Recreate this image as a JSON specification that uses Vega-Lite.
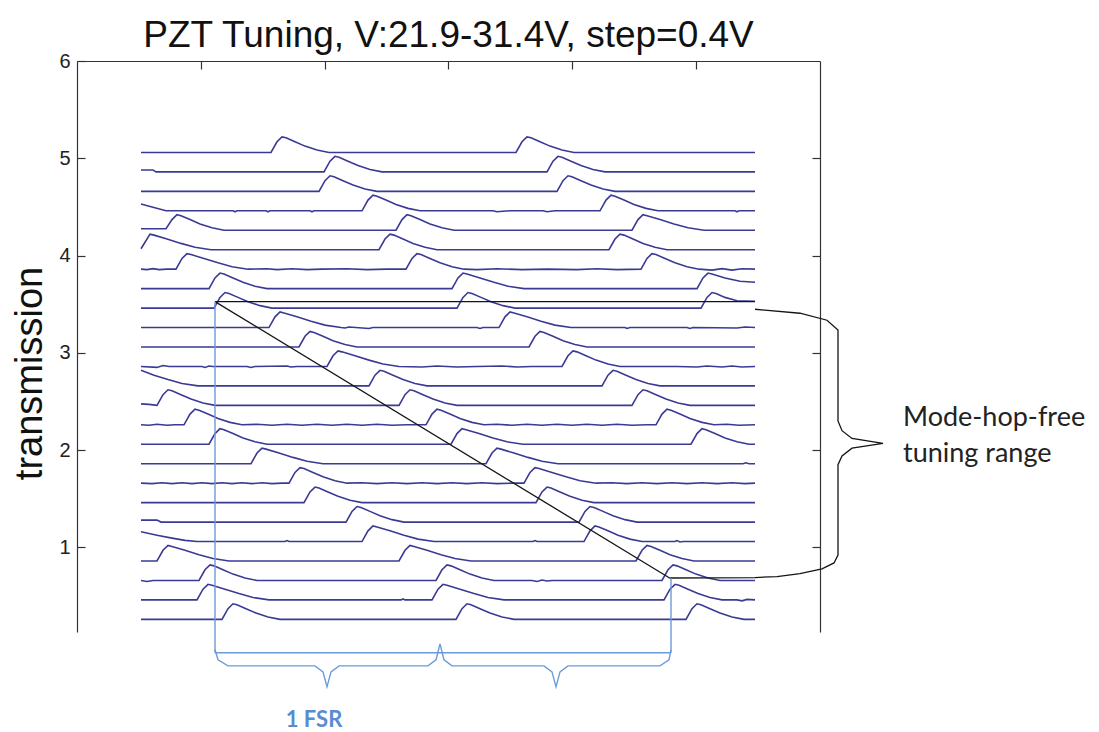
{
  "$schema": "https://vega.github.io/schema/vega-lite/v6.json",
  "autosize": {"type": "none"},
  "width": 743,
  "height": 571,
  "padding": {"left": 77, "top": 61, "right": 279, "bottom": 100},
  "background": "white",
  "config": {"view": {"stroke": null}, "font": "Liberation Sans"},
  "title": {"text": "PZT Tuning, V:21.9-31.4V, step=0.4V", "fontSize": 37, "font": "Liberation Sans", "fontWeight": "normal", "color": "#111", "anchor": "middle", "frame": "group", "offset": -4},
  "resolve": {"axis": {"x": "independent", "y": "independent"}},
  "datasets": {
    "tr": [
{"t":1,"x":64,"y":5.06},{"t":1,"x":194,"y":5.06},{"t":1,"x":200,"y":5.17},{"t":1,"x":205,"y":5.22},{"t":1,"x":209,"y":5.21},{"t":1,"x":218,"y":5.17},{"t":1,"x":228,"y":5.125},{"t":1,"x":240,"y":5.085},{"t":1,"x":252,"y":5.06},{"t":1,"x":439,"y":5.06},{"t":1,"x":445,"y":5.17},{"t":1,"x":450,"y":5.22},{"t":1,"x":454,"y":5.21},{"t":1,"x":463,"y":5.17},{"t":1,"x":473,"y":5.125},{"t":1,"x":485,"y":5.085},{"t":1,"x":497,"y":5.06},{"t":1,"x":678,"y":5.06},
{"t":2,"x":64,"y":4.88},{"t":2,"x":76,"y":4.88},{"t":2,"x":79,"y":4.86},{"t":2,"x":247,"y":4.86},{"t":2,"x":253,"y":4.97},{"t":2,"x":258,"y":5.02},{"t":2,"x":262,"y":5.01},{"t":2,"x":271,"y":4.97},{"t":2,"x":281,"y":4.925},{"t":2,"x":293,"y":4.885},{"t":2,"x":305,"y":4.86},{"t":2,"x":470,"y":4.86},{"t":2,"x":476,"y":4.97},{"t":2,"x":481,"y":5.02},{"t":2,"x":485,"y":5.01},{"t":2,"x":494,"y":4.97},{"t":2,"x":504,"y":4.925},{"t":2,"x":516,"y":4.885},{"t":2,"x":528,"y":4.86},{"t":2,"x":678,"y":4.86},
{"t":3,"x":64,"y":4.66},{"t":3,"x":242,"y":4.66},{"t":3,"x":248,"y":4.77},{"t":3,"x":253,"y":4.82},{"t":3,"x":257,"y":4.81},{"t":3,"x":266,"y":4.77},{"t":3,"x":276,"y":4.725},{"t":3,"x":288,"y":4.685},{"t":3,"x":300,"y":4.66},{"t":3,"x":480,"y":4.66},{"t":3,"x":486,"y":4.77},{"t":3,"x":491,"y":4.82},{"t":3,"x":495,"y":4.81},{"t":3,"x":504,"y":4.77},{"t":3,"x":514,"y":4.725},{"t":3,"x":526,"y":4.685},{"t":3,"x":538,"y":4.66},{"t":3,"x":678,"y":4.66},
{"t":4,"x":64,"y":4.53},{"t":4,"x":75,"y":4.5},{"t":4,"x":89,"y":4.46},{"t":4,"x":156,"y":4.46},{"t":4,"x":158,"y":4.45},{"t":4,"x":160,"y":4.46},{"t":4,"x":189,"y":4.46},{"t":4,"x":191,"y":4.45},{"t":4,"x":193,"y":4.46},{"t":4,"x":233,"y":4.46},{"t":4,"x":235,"y":4.45},{"t":4,"x":237,"y":4.46},{"t":4,"x":285,"y":4.46},{"t":4,"x":291,"y":4.57},{"t":4,"x":296,"y":4.62},{"t":4,"x":300,"y":4.61},{"t":4,"x":309,"y":4.57},{"t":4,"x":319,"y":4.525},{"t":4,"x":331,"y":4.485},{"t":4,"x":343,"y":4.46},{"t":4,"x":416,"y":4.46},{"t":4,"x":420,"y":4.45},{"t":4,"x":426,"y":4.455},{"t":4,"x":433,"y":4.46},{"t":4,"x":466,"y":4.46},{"t":4,"x":470,"y":4.45},{"t":4,"x":478,"y":4.46},{"t":4,"x":523,"y":4.46},{"t":4,"x":529,"y":4.57},{"t":4,"x":534,"y":4.62},{"t":4,"x":538,"y":4.61},{"t":4,"x":547,"y":4.57},{"t":4,"x":557,"y":4.525},{"t":4,"x":569,"y":4.485},{"t":4,"x":581,"y":4.46},{"t":4,"x":658,"y":4.46},{"t":4,"x":660,"y":4.45},{"t":4,"x":662,"y":4.46},{"t":4,"x":678,"y":4.46},
{"t":5,"x":64,"y":4.275},{"t":5,"x":89,"y":4.275},{"t":5,"x":95,"y":4.37},{"t":5,"x":100,"y":4.42},{"t":5,"x":104,"y":4.41},{"t":5,"x":113,"y":4.37},{"t":5,"x":123,"y":4.325},{"t":5,"x":135,"y":4.285},{"t":5,"x":147,"y":4.26},{"t":5,"x":319,"y":4.26},{"t":5,"x":325,"y":4.37},{"t":5,"x":330,"y":4.42},{"t":5,"x":334,"y":4.41},{"t":5,"x":343,"y":4.37},{"t":5,"x":353,"y":4.325},{"t":5,"x":365,"y":4.285},{"t":5,"x":377,"y":4.26},{"t":5,"x":555,"y":4.26},{"t":5,"x":561,"y":4.37},{"t":5,"x":566,"y":4.42},{"t":5,"x":570,"y":4.41},{"t":5,"x":583,"y":4.37},{"t":5,"x":597,"y":4.325},{"t":5,"x":611,"y":4.285},{"t":5,"x":627,"y":4.26},{"t":5,"x":678,"y":4.26},
{"t":6,"x":64,"y":4.07},{"t":6,"x":73,"y":4.22},{"t":6,"x":77,"y":4.21},{"t":6,"x":90,"y":4.17},{"t":6,"x":104,"y":4.125},{"t":6,"x":118,"y":4.085},{"t":6,"x":134,"y":4.06},{"t":6,"x":302,"y":4.06},{"t":6,"x":308,"y":4.17},{"t":6,"x":313,"y":4.22},{"t":6,"x":317,"y":4.21},{"t":6,"x":326,"y":4.17},{"t":6,"x":336,"y":4.125},{"t":6,"x":348,"y":4.085},{"t":6,"x":360,"y":4.06},{"t":6,"x":532,"y":4.06},{"t":6,"x":538,"y":4.17},{"t":6,"x":543,"y":4.22},{"t":6,"x":547,"y":4.21},{"t":6,"x":556,"y":4.17},{"t":6,"x":566,"y":4.125},{"t":6,"x":578,"y":4.085},{"t":6,"x":590,"y":4.06},{"t":6,"x":678,"y":4.06},
{"t":7,"x":64,"y":3.86},{"t":7,"x":70,"y":3.855},{"t":7,"x":76,"y":3.865},{"t":7,"x":82,"y":3.855},{"t":7,"x":90,"y":3.86},{"t":7,"x":99,"y":3.86},{"t":7,"x":105,"y":3.97},{"t":7,"x":110,"y":4.02},{"t":7,"x":114,"y":4.01},{"t":7,"x":127,"y":3.97},{"t":7,"x":141,"y":3.925},{"t":7,"x":155,"y":3.885},{"t":7,"x":171,"y":3.86},{"t":7,"x":190,"y":3.865},{"t":7,"x":200,"y":3.855},{"t":7,"x":215,"y":3.865},{"t":7,"x":230,"y":3.855},{"t":7,"x":245,"y":3.86},{"t":7,"x":270,"y":3.865},{"t":7,"x":290,"y":3.855},{"t":7,"x":310,"y":3.86},{"t":7,"x":329,"y":3.86},{"t":7,"x":335,"y":3.97},{"t":7,"x":340,"y":4.02},{"t":7,"x":344,"y":4.01},{"t":7,"x":353,"y":3.97},{"t":7,"x":363,"y":3.925},{"t":7,"x":375,"y":3.885},{"t":7,"x":387,"y":3.86},{"t":7,"x":400,"y":3.855},{"t":7,"x":420,"y":3.865},{"t":7,"x":445,"y":3.855},{"t":7,"x":470,"y":3.86},{"t":7,"x":500,"y":3.855},{"t":7,"x":520,"y":3.865},{"t":7,"x":540,"y":3.855},{"t":7,"x":564,"y":3.86},{"t":7,"x":570,"y":3.97},{"t":7,"x":575,"y":4.02},{"t":7,"x":579,"y":4.01},{"t":7,"x":588,"y":3.97},{"t":7,"x":598,"y":3.925},{"t":7,"x":610,"y":3.885},{"t":7,"x":622,"y":3.86},{"t":7,"x":635,"y":3.85},{"t":7,"x":645,"y":3.865},{"t":7,"x":655,"y":3.85},{"t":7,"x":665,"y":3.865},{"t":7,"x":678,"y":3.86},
{"t":8,"x":64,"y":3.66},{"t":8,"x":132,"y":3.66},{"t":8,"x":138,"y":3.77},{"t":8,"x":143,"y":3.82},{"t":8,"x":147,"y":3.81},{"t":8,"x":156,"y":3.77},{"t":8,"x":166,"y":3.725},{"t":8,"x":178,"y":3.685},{"t":8,"x":190,"y":3.66},{"t":8,"x":375,"y":3.66},{"t":8,"x":381,"y":3.77},{"t":8,"x":386,"y":3.82},{"t":8,"x":390,"y":3.81},{"t":8,"x":403,"y":3.77},{"t":8,"x":417,"y":3.725},{"t":8,"x":431,"y":3.685},{"t":8,"x":447,"y":3.66},{"t":8,"x":620,"y":3.66},{"t":8,"x":626,"y":3.77},{"t":8,"x":631,"y":3.82},{"t":8,"x":635,"y":3.81},{"t":8,"x":648,"y":3.77},{"t":8,"x":663,"y":3.735},{"t":8,"x":678,"y":3.725},
{"t":9,"x":64,"y":3.46},{"t":9,"x":137,"y":3.46},{"t":9,"x":143,"y":3.57},{"t":9,"x":148,"y":3.62},{"t":9,"x":152,"y":3.61},{"t":9,"x":161,"y":3.57},{"t":9,"x":171,"y":3.525},{"t":9,"x":183,"y":3.485},{"t":9,"x":195,"y":3.46},{"t":9,"x":380,"y":3.46},{"t":9,"x":386,"y":3.57},{"t":9,"x":391,"y":3.62},{"t":9,"x":395,"y":3.61},{"t":9,"x":404,"y":3.57},{"t":9,"x":414,"y":3.525},{"t":9,"x":426,"y":3.485},{"t":9,"x":438,"y":3.46},{"t":9,"x":624,"y":3.46},{"t":9,"x":630,"y":3.57},{"t":9,"x":635,"y":3.62},{"t":9,"x":639,"y":3.61},{"t":9,"x":648,"y":3.57},{"t":9,"x":660,"y":3.535},{"t":9,"x":678,"y":3.53},
{"t":10,"x":64,"y":3.26},{"t":10,"x":192,"y":3.26},{"t":10,"x":198,"y":3.37},{"t":10,"x":203,"y":3.42},{"t":10,"x":207,"y":3.41},{"t":10,"x":220,"y":3.37},{"t":10,"x":234,"y":3.325},{"t":10,"x":248,"y":3.285},{"t":10,"x":264,"y":3.26},{"t":10,"x":268,"y":3.255},{"t":10,"x":272,"y":3.265},{"t":10,"x":292,"y":3.25},{"t":10,"x":296,"y":3.26},{"t":10,"x":400,"y":3.26},{"t":10,"x":403,"y":3.25},{"t":10,"x":406,"y":3.26},{"t":10,"x":422,"y":3.26},{"t":10,"x":428,"y":3.37},{"t":10,"x":433,"y":3.42},{"t":10,"x":437,"y":3.41},{"t":10,"x":450,"y":3.37},{"t":10,"x":464,"y":3.325},{"t":10,"x":478,"y":3.285},{"t":10,"x":494,"y":3.26},{"t":10,"x":548,"y":3.26},{"t":10,"x":550,"y":3.25},{"t":10,"x":553,"y":3.26},{"t":10,"x":610,"y":3.26},{"t":10,"x":613,"y":3.25},{"t":10,"x":616,"y":3.26},{"t":10,"x":660,"y":3.255},{"t":10,"x":668,"y":3.265},{"t":10,"x":678,"y":3.26},
{"t":11,"x":64,"y":3.06},{"t":11,"x":222,"y":3.06},{"t":11,"x":228,"y":3.17},{"t":11,"x":233,"y":3.22},{"t":11,"x":237,"y":3.21},{"t":11,"x":246,"y":3.17},{"t":11,"x":256,"y":3.125},{"t":11,"x":268,"y":3.085},{"t":11,"x":280,"y":3.06},{"t":11,"x":452,"y":3.06},{"t":11,"x":458,"y":3.17},{"t":11,"x":463,"y":3.22},{"t":11,"x":467,"y":3.21},{"t":11,"x":476,"y":3.17},{"t":11,"x":486,"y":3.125},{"t":11,"x":498,"y":3.085},{"t":11,"x":510,"y":3.06},{"t":11,"x":678,"y":3.06},
{"t":12,"x":64,"y":2.86},{"t":12,"x":80,"y":2.85},{"t":12,"x":86,"y":2.87},{"t":12,"x":92,"y":2.86},{"t":12,"x":125,"y":2.86},{"t":12,"x":128,"y":2.85},{"t":12,"x":132,"y":2.865},{"t":12,"x":136,"y":2.86},{"t":12,"x":170,"y":2.86},{"t":12,"x":174,"y":2.85},{"t":12,"x":178,"y":2.86},{"t":12,"x":210,"y":2.865},{"t":12,"x":214,"y":2.855},{"t":12,"x":220,"y":2.86},{"t":12,"x":250,"y":2.86},{"t":12,"x":256,"y":2.97},{"t":12,"x":261,"y":3.02},{"t":12,"x":265,"y":3.01},{"t":12,"x":278,"y":2.97},{"t":12,"x":292,"y":2.925},{"t":12,"x":306,"y":2.885},{"t":12,"x":322,"y":2.86},{"t":12,"x":345,"y":2.855},{"t":12,"x":360,"y":2.865},{"t":12,"x":380,"y":2.855},{"t":12,"x":400,"y":2.86},{"t":12,"x":425,"y":2.865},{"t":12,"x":440,"y":2.855},{"t":12,"x":455,"y":2.86},{"t":12,"x":485,"y":2.86},{"t":12,"x":491,"y":2.97},{"t":12,"x":496,"y":3.02},{"t":12,"x":500,"y":3.01},{"t":12,"x":509,"y":2.97},{"t":12,"x":519,"y":2.925},{"t":12,"x":531,"y":2.885},{"t":12,"x":543,"y":2.86},{"t":12,"x":600,"y":2.86},{"t":12,"x":620,"y":2.855},{"t":12,"x":630,"y":2.865},{"t":12,"x":645,"y":2.855},{"t":12,"x":655,"y":2.865},{"t":12,"x":665,"y":2.855},{"t":12,"x":678,"y":2.86},
{"t":13,"x":64,"y":2.82},{"t":13,"x":77,"y":2.77},{"t":13,"x":91,"y":2.725},{"t":13,"x":105,"y":2.685},{"t":13,"x":121,"y":2.66},{"t":13,"x":292,"y":2.66},{"t":13,"x":298,"y":2.77},{"t":13,"x":303,"y":2.82},{"t":13,"x":307,"y":2.81},{"t":13,"x":316,"y":2.77},{"t":13,"x":326,"y":2.725},{"t":13,"x":338,"y":2.685},{"t":13,"x":350,"y":2.66},{"t":13,"x":525,"y":2.66},{"t":13,"x":531,"y":2.77},{"t":13,"x":536,"y":2.82},{"t":13,"x":540,"y":2.81},{"t":13,"x":549,"y":2.77},{"t":13,"x":559,"y":2.725},{"t":13,"x":571,"y":2.685},{"t":13,"x":583,"y":2.66},{"t":13,"x":678,"y":2.66},
{"t":14,"x":64,"y":2.475},{"t":14,"x":72,"y":2.47},{"t":14,"x":80,"y":2.46},{"t":14,"x":86,"y":2.57},{"t":14,"x":91,"y":2.62},{"t":14,"x":95,"y":2.61},{"t":14,"x":104,"y":2.57},{"t":14,"x":114,"y":2.525},{"t":14,"x":126,"y":2.485},{"t":14,"x":138,"y":2.46},{"t":14,"x":322,"y":2.46},{"t":14,"x":328,"y":2.57},{"t":14,"x":333,"y":2.62},{"t":14,"x":337,"y":2.61},{"t":14,"x":346,"y":2.57},{"t":14,"x":356,"y":2.525},{"t":14,"x":368,"y":2.485},{"t":14,"x":380,"y":2.46},{"t":14,"x":555,"y":2.46},{"t":14,"x":561,"y":2.57},{"t":14,"x":566,"y":2.62},{"t":14,"x":570,"y":2.61},{"t":14,"x":579,"y":2.57},{"t":14,"x":589,"y":2.525},{"t":14,"x":601,"y":2.485},{"t":14,"x":613,"y":2.46},{"t":14,"x":678,"y":2.46},
{"t":15,"x":64,"y":2.26},{"t":15,"x":72,"y":2.255},{"t":15,"x":80,"y":2.265},{"t":15,"x":90,"y":2.255},{"t":15,"x":98,"y":2.26},{"t":15,"x":107,"y":2.26},{"t":15,"x":113,"y":2.37},{"t":15,"x":118,"y":2.42},{"t":15,"x":122,"y":2.41},{"t":15,"x":131,"y":2.37},{"t":15,"x":141,"y":2.325},{"t":15,"x":153,"y":2.285},{"t":15,"x":165,"y":2.26},{"t":15,"x":180,"y":2.265},{"t":15,"x":195,"y":2.255},{"t":15,"x":210,"y":2.265},{"t":15,"x":225,"y":2.255},{"t":15,"x":240,"y":2.265},{"t":15,"x":255,"y":2.255},{"t":15,"x":270,"y":2.265},{"t":15,"x":285,"y":2.255},{"t":15,"x":300,"y":2.265},{"t":15,"x":315,"y":2.255},{"t":15,"x":330,"y":2.26},{"t":15,"x":349,"y":2.26},{"t":15,"x":355,"y":2.37},{"t":15,"x":360,"y":2.42},{"t":15,"x":364,"y":2.41},{"t":15,"x":373,"y":2.37},{"t":15,"x":383,"y":2.325},{"t":15,"x":395,"y":2.285},{"t":15,"x":407,"y":2.26},{"t":15,"x":420,"y":2.265},{"t":15,"x":435,"y":2.255},{"t":15,"x":450,"y":2.265},{"t":15,"x":465,"y":2.255},{"t":15,"x":480,"y":2.265},{"t":15,"x":495,"y":2.255},{"t":15,"x":510,"y":2.265},{"t":15,"x":525,"y":2.255},{"t":15,"x":540,"y":2.265},{"t":15,"x":555,"y":2.255},{"t":15,"x":570,"y":2.26},{"t":15,"x":579,"y":2.26},{"t":15,"x":585,"y":2.37},{"t":15,"x":590,"y":2.42},{"t":15,"x":594,"y":2.41},{"t":15,"x":603,"y":2.37},{"t":15,"x":613,"y":2.325},{"t":15,"x":625,"y":2.285},{"t":15,"x":637,"y":2.26},{"t":15,"x":650,"y":2.265},{"t":15,"x":662,"y":2.255},{"t":15,"x":678,"y":2.26},
{"t":16,"x":64,"y":2.06},{"t":16,"x":132,"y":2.06},{"t":16,"x":138,"y":2.17},{"t":16,"x":143,"y":2.22},{"t":16,"x":147,"y":2.21},{"t":16,"x":156,"y":2.17},{"t":16,"x":166,"y":2.125},{"t":16,"x":178,"y":2.085},{"t":16,"x":190,"y":2.06},{"t":16,"x":374,"y":2.06},{"t":16,"x":380,"y":2.17},{"t":16,"x":385,"y":2.22},{"t":16,"x":389,"y":2.21},{"t":16,"x":402,"y":2.17},{"t":16,"x":416,"y":2.125},{"t":16,"x":430,"y":2.085},{"t":16,"x":446,"y":2.06},{"t":16,"x":614,"y":2.06},{"t":16,"x":620,"y":2.17},{"t":16,"x":625,"y":2.22},{"t":16,"x":629,"y":2.21},{"t":16,"x":638,"y":2.17},{"t":16,"x":648,"y":2.125},{"t":16,"x":660,"y":2.085},{"t":16,"x":672,"y":2.06},{"t":16,"x":678,"y":2.06},
{"t":17,"x":64,"y":1.86},{"t":17,"x":174,"y":1.86},{"t":17,"x":180,"y":1.97},{"t":17,"x":185,"y":2.02},{"t":17,"x":189,"y":2.01},{"t":17,"x":202,"y":1.97},{"t":17,"x":216,"y":1.925},{"t":17,"x":230,"y":1.885},{"t":17,"x":246,"y":1.86},{"t":17,"x":409,"y":1.86},{"t":17,"x":415,"y":1.97},{"t":17,"x":420,"y":2.02},{"t":17,"x":424,"y":2.01},{"t":17,"x":437,"y":1.97},{"t":17,"x":451,"y":1.925},{"t":17,"x":465,"y":1.885},{"t":17,"x":481,"y":1.86},{"t":17,"x":666,"y":1.86},{"t":17,"x":669,"y":1.87},{"t":17,"x":672,"y":1.86},{"t":17,"x":678,"y":1.86},
{"t":18,"x":64,"y":1.66},{"t":18,"x":75,"y":1.655},{"t":18,"x":85,"y":1.665},{"t":18,"x":95,"y":1.655},{"t":18,"x":105,"y":1.665},{"t":18,"x":115,"y":1.655},{"t":18,"x":125,"y":1.665},{"t":18,"x":135,"y":1.655},{"t":18,"x":145,"y":1.665},{"t":18,"x":155,"y":1.655},{"t":18,"x":165,"y":1.665},{"t":18,"x":175,"y":1.655},{"t":18,"x":185,"y":1.665},{"t":18,"x":195,"y":1.655},{"t":18,"x":205,"y":1.66},{"t":18,"x":212,"y":1.66},{"t":18,"x":218,"y":1.77},{"t":18,"x":223,"y":1.82},{"t":18,"x":227,"y":1.81},{"t":18,"x":236,"y":1.77},{"t":18,"x":246,"y":1.725},{"t":18,"x":258,"y":1.685},{"t":18,"x":270,"y":1.66},{"t":18,"x":285,"y":1.665},{"t":18,"x":300,"y":1.655},{"t":18,"x":315,"y":1.665},{"t":18,"x":330,"y":1.655},{"t":18,"x":345,"y":1.665},{"t":18,"x":360,"y":1.655},{"t":18,"x":375,"y":1.665},{"t":18,"x":390,"y":1.655},{"t":18,"x":405,"y":1.665},{"t":18,"x":420,"y":1.655},{"t":18,"x":435,"y":1.66},{"t":18,"x":447,"y":1.66},{"t":18,"x":453,"y":1.77},{"t":18,"x":458,"y":1.82},{"t":18,"x":462,"y":1.81},{"t":18,"x":475,"y":1.77},{"t":18,"x":489,"y":1.725},{"t":18,"x":503,"y":1.685},{"t":18,"x":519,"y":1.66},{"t":18,"x":535,"y":1.665},{"t":18,"x":550,"y":1.655},{"t":18,"x":565,"y":1.665},{"t":18,"x":580,"y":1.655},{"t":18,"x":595,"y":1.665},{"t":18,"x":610,"y":1.655},{"t":18,"x":625,"y":1.665},{"t":18,"x":640,"y":1.655},{"t":18,"x":655,"y":1.665},{"t":18,"x":668,"y":1.655},{"t":18,"x":678,"y":1.66},
{"t":19,"x":64,"y":1.46},{"t":19,"x":227,"y":1.46},{"t":19,"x":233,"y":1.57},{"t":19,"x":238,"y":1.62},{"t":19,"x":242,"y":1.61},{"t":19,"x":251,"y":1.57},{"t":19,"x":261,"y":1.525},{"t":19,"x":273,"y":1.485},{"t":19,"x":285,"y":1.46},{"t":19,"x":459,"y":1.46},{"t":19,"x":465,"y":1.57},{"t":19,"x":470,"y":1.62},{"t":19,"x":474,"y":1.61},{"t":19,"x":483,"y":1.57},{"t":19,"x":493,"y":1.525},{"t":19,"x":505,"y":1.485},{"t":19,"x":517,"y":1.46},{"t":19,"x":678,"y":1.46},
{"t":20,"x":64,"y":1.28},{"t":20,"x":80,"y":1.28},{"t":20,"x":84,"y":1.26},{"t":20,"x":269,"y":1.26},{"t":20,"x":275,"y":1.37},{"t":20,"x":280,"y":1.42},{"t":20,"x":284,"y":1.41},{"t":20,"x":293,"y":1.37},{"t":20,"x":303,"y":1.325},{"t":20,"x":315,"y":1.285},{"t":20,"x":327,"y":1.26},{"t":20,"x":502,"y":1.26},{"t":20,"x":508,"y":1.37},{"t":20,"x":513,"y":1.42},{"t":20,"x":517,"y":1.41},{"t":20,"x":526,"y":1.37},{"t":20,"x":536,"y":1.325},{"t":20,"x":548,"y":1.285},{"t":20,"x":560,"y":1.26},{"t":20,"x":678,"y":1.26},
{"t":21,"x":64,"y":1.16},{"t":21,"x":80,"y":1.125},{"t":21,"x":95,"y":1.095},{"t":21,"x":108,"y":1.072},{"t":21,"x":120,"y":1.06},{"t":21,"x":208,"y":1.06},{"t":21,"x":210,"y":1.07},{"t":21,"x":212,"y":1.06},{"t":21,"x":285,"y":1.06},{"t":21,"x":291,"y":1.17},{"t":21,"x":296,"y":1.22},{"t":21,"x":300,"y":1.21},{"t":21,"x":313,"y":1.17},{"t":21,"x":327,"y":1.125},{"t":21,"x":341,"y":1.085},{"t":21,"x":357,"y":1.06},{"t":21,"x":456,"y":1.06},{"t":21,"x":458,"y":1.07},{"t":21,"x":460,"y":1.06},{"t":21,"x":507,"y":1.06},{"t":21,"x":513,"y":1.17},{"t":21,"x":518,"y":1.22},{"t":21,"x":522,"y":1.21},{"t":21,"x":531,"y":1.17},{"t":21,"x":541,"y":1.125},{"t":21,"x":553,"y":1.085},{"t":21,"x":565,"y":1.06},{"t":21,"x":598,"y":1.06},{"t":21,"x":600,"y":1.07},{"t":21,"x":603,"y":1.055},{"t":21,"x":606,"y":1.06},{"t":21,"x":678,"y":1.06},
{"t":22,"x":64,"y":0.86},{"t":22,"x":80,"y":0.86},{"t":22,"x":86,"y":0.97},{"t":22,"x":91,"y":1.02},{"t":22,"x":95,"y":1.01},{"t":22,"x":108,"y":0.97},{"t":22,"x":122,"y":0.925},{"t":22,"x":136,"y":0.885},{"t":22,"x":152,"y":0.86},{"t":22,"x":322,"y":0.86},{"t":22,"x":328,"y":0.97},{"t":22,"x":333,"y":1.02},{"t":22,"x":337,"y":1.01},{"t":22,"x":350,"y":0.97},{"t":22,"x":364,"y":0.925},{"t":22,"x":378,"y":0.885},{"t":22,"x":394,"y":0.86},{"t":22,"x":559,"y":0.86},{"t":22,"x":565,"y":0.97},{"t":22,"x":570,"y":1.02},{"t":22,"x":574,"y":1.01},{"t":22,"x":583,"y":0.97},{"t":22,"x":593,"y":0.925},{"t":22,"x":605,"y":0.885},{"t":22,"x":617,"y":0.86},{"t":22,"x":678,"y":0.86},
{"t":23,"x":64,"y":0.66},{"t":23,"x":70,"y":0.65},{"t":23,"x":76,"y":0.66},{"t":23,"x":122,"y":0.66},{"t":23,"x":128,"y":0.77},{"t":23,"x":133,"y":0.82},{"t":23,"x":137,"y":0.81},{"t":23,"x":146,"y":0.77},{"t":23,"x":156,"y":0.725},{"t":23,"x":168,"y":0.685},{"t":23,"x":180,"y":0.66},{"t":23,"x":359,"y":0.66},{"t":23,"x":365,"y":0.77},{"t":23,"x":370,"y":0.82},{"t":23,"x":374,"y":0.81},{"t":23,"x":383,"y":0.77},{"t":23,"x":393,"y":0.725},{"t":23,"x":405,"y":0.685},{"t":23,"x":417,"y":0.66},{"t":23,"x":455,"y":0.66},{"t":23,"x":460,"y":0.65},{"t":23,"x":465,"y":0.665},{"t":23,"x":470,"y":0.655},{"t":23,"x":475,"y":0.66},{"t":23,"x":585,"y":0.66},{"t":23,"x":591,"y":0.77},{"t":23,"x":596,"y":0.82},{"t":23,"x":600,"y":0.81},{"t":23,"x":609,"y":0.77},{"t":23,"x":619,"y":0.725},{"t":23,"x":631,"y":0.685},{"t":23,"x":643,"y":0.66},{"t":23,"x":678,"y":0.66},
{"t":24,"x":64,"y":0.46},{"t":24,"x":120,"y":0.46},{"t":24,"x":126,"y":0.57},{"t":24,"x":131,"y":0.62},{"t":24,"x":135,"y":0.61},{"t":24,"x":148,"y":0.57},{"t":24,"x":162,"y":0.525},{"t":24,"x":176,"y":0.485},{"t":24,"x":192,"y":0.46},{"t":24,"x":324,"y":0.46},{"t":24,"x":326,"y":0.47},{"t":24,"x":328,"y":0.46},{"t":24,"x":355,"y":0.46},{"t":24,"x":361,"y":0.57},{"t":24,"x":366,"y":0.62},{"t":24,"x":370,"y":0.61},{"t":24,"x":383,"y":0.57},{"t":24,"x":397,"y":0.525},{"t":24,"x":411,"y":0.485},{"t":24,"x":427,"y":0.46},{"t":24,"x":587,"y":0.46},{"t":24,"x":593,"y":0.57},{"t":24,"x":598,"y":0.62},{"t":24,"x":602,"y":0.61},{"t":24,"x":611,"y":0.57},{"t":24,"x":621,"y":0.525},{"t":24,"x":633,"y":0.485},{"t":24,"x":645,"y":0.46},{"t":24,"x":660,"y":0.46},{"t":24,"x":665,"y":0.45},{"t":24,"x":670,"y":0.465},{"t":24,"x":678,"y":0.46},
{"t":25,"x":64,"y":0.26},{"t":25,"x":145,"y":0.26},{"t":25,"x":151,"y":0.37},{"t":25,"x":156,"y":0.42},{"t":25,"x":160,"y":0.41},{"t":25,"x":169,"y":0.37},{"t":25,"x":179,"y":0.325},{"t":25,"x":191,"y":0.285},{"t":25,"x":203,"y":0.26},{"t":25,"x":379,"y":0.26},{"t":25,"x":385,"y":0.37},{"t":25,"x":390,"y":0.42},{"t":25,"x":394,"y":0.41},{"t":25,"x":403,"y":0.37},{"t":25,"x":413,"y":0.325},{"t":25,"x":425,"y":0.285},{"t":25,"x":437,"y":0.26},{"t":25,"x":609,"y":0.26},{"t":25,"x":615,"y":0.37},{"t":25,"x":620,"y":0.42},{"t":25,"x":624,"y":0.41},{"t":25,"x":633,"y":0.37},{"t":25,"x":643,"y":0.325},{"t":25,"x":655,"y":0.285},{"t":25,"x":667,"y":0.26},{"t":25,"x":678,"y":0.26}
    ],
    "bk": [
{"g":"h","o":1,"x":138,"y":3.526},{"g":"h","o":2,"x":678,"y":3.526},
{"g":"d","o":1,"x":138,"y":3.526},{"g":"d","o":2,"x":593,"y":0.683},
{"g":"b","o":1,"x":678,"y":3.448},{"g":"b","o":2,"x":723,"y":3.407},{"g":"b","o":3,"x":750,"y":3.335},{"g":"b","o":4,"x":761,"y":3.235},{"g":"b","o":5,"x":761,"y":2.30},{"g":"b","o":6,"x":765,"y":2.20},{"g":"b","o":7,"x":775,"y":2.12},{"g":"b","o":8,"x":806,"y":2.07},{"g":"b","o":9,"x":775,"y":2.02},{"g":"b","o":10,"x":765,"y":1.94},{"g":"b","o":11,"x":761,"y":1.85},{"g":"b","o":12,"x":761,"y":0.92},{"g":"b","o":13,"x":757,"y":0.84},{"g":"b","o":14,"x":745,"y":0.78},{"g":"b","o":15,"x":723,"y":0.73},{"g":"b","o":16,"x":700,"y":0.70},{"g":"b","o":17,"x":678,"y":0.69},{"g":"b","o":18,"x":593,"y":0.685}
    ],
    "bl": [
{"g":"v1","o":1,"x":138,"y":3.526},{"g":"v1","o":2,"x":138,"y":-0.084},
{"g":"v2","o":1,"x":594,"y":0.683},{"g":"v2","o":2,"x":594,"y":-0.084},
{"g":"hz","o":1,"x":138,"y":-0.084},{"g":"hz","o":2,"x":594,"y":-0.084},
{"g":"br","o":1,"x":138,"y":-0.053},{"g":"br","o":2,"x":141,"y":-0.156},{"g":"br","o":3,"x":151,"y":-0.218},{"g":"br","o":4,"x":238,"y":-0.218},{"g":"br","o":5,"x":246,"y":-0.28},{"g":"br","o":6,"x":250,"y":-0.434},{"g":"br","o":7,"x":254,"y":-0.28},{"g":"br","o":8,"x":262,"y":-0.218},{"g":"br","o":9,"x":351,"y":-0.218},{"g":"br","o":10,"x":359,"y":-0.156},{"g":"br","o":11,"x":363,"y":0.008},{"g":"br","o":12,"x":367,"y":-0.156},{"g":"br","o":13,"x":375,"y":-0.218},{"g":"br","o":14,"x":467,"y":-0.218},{"g":"br","o":15,"x":475,"y":-0.28},{"g":"br","o":16,"x":479,"y":-0.434},{"g":"br","o":17,"x":483,"y":-0.28},{"g":"br","o":18,"x":491,"y":-0.218},{"g":"br","o":19,"x":583,"y":-0.218},{"g":"br","o":20,"x":592,"y":-0.156},{"g":"br","o":21,"x":594,"y":-0.053}
    ]
  },
  "layer": [
    {
      "data": {"name": "tr"},
      "mark": {"type": "line", "color": "#3a3a95", "strokeWidth": 1.6, "clip": false},
      "encoding": {
        "x": {"field": "x", "type": "quantitative", "scale": {"domain": [0, 743], "nice": false, "zero": false},
              "axis": {"orient": "top", "values": [124, 248, 371, 495, 619], "labels": false, "tickSize": -8, "title": null, "grid": false, "domainColor": "#333", "tickColor": "#333", "domainWidth": 1.2, "tickWidth": 1.2}},
        "y": {"field": "y", "type": "quantitative", "scale": {"domain": [0.13, 6], "nice": false, "zero": false},
              "axis": {"orient": "left", "values": [1, 2, 3, 4, 5, 6], "tickSize": -8, "labelPadding": 15, "labelFontSize": 20, "labelFont": "Liberation Sans", "labelColor": "#222", "labelFlush": false, "labelOverlap": false, "grid": false, "domainColor": "#333", "tickColor": "#333", "domainWidth": 1.2, "tickWidth": 1.2,
                       "title": "transmission", "titleFontSize": 38, "titleFont": "Liberation Sans", "titleFontWeight": "normal", "titleColor": "#111", "titleX": -36, "titleY": 312, "titleAngle": 270, "titleBaseline": "alphabetic", "titleAlign": "center"}},
        "detail": {"field": "t", "type": "nominal"}
      }
    },
    {
      "data": {"name": "bk"},
      "mark": {"type": "line", "color": "#151515", "strokeWidth": 1.3, "clip": false},
      "encoding": {
        "x": {"field": "x", "type": "quantitative", "axis": null},
        "y": {"field": "y", "type": "quantitative",
              "axis": {"orient": "right", "values": [1, 2, 3, 4, 5], "labels": false, "tickSize": -8, "title": null, "grid": false, "domainColor": "#333", "tickColor": "#333", "domainWidth": 1.2, "tickWidth": 1.2}},
        "detail": {"field": "g", "type": "nominal"},
        "order": {"field": "o", "type": "quantitative"}
      }
    },
    {
      "data": {"name": "bl"},
      "mark": {"type": "line", "color": "#6b9bd8", "strokeWidth": 1.4, "clip": false},
      "encoding": {
        "x": {"field": "x", "type": "quantitative", "axis": null},
        "y": {"field": "y", "type": "quantitative", "axis": null},
        "detail": {"field": "g", "type": "nominal"},
        "order": {"field": "o", "type": "quantitative"}
      }
    },
    {
      "data": {"values": [{"txt": "Mode-hop-free", "x": 826, "y": 2.25}, {"txt": "tuning range", "x": 826, "y": 1.88}]},
      "mark": {"type": "text", "align": "left", "baseline": "alphabetic", "font": "Lato", "fontSize": 27, "color": "#222", "clip": false},
      "encoding": {
        "x": {"field": "x", "type": "quantitative", "axis": null},
        "y": {"field": "y", "type": "quantitative", "axis": null},
        "text": {"field": "txt"}
      }
    },
    {
      "data": {"values": [{"txt": "1 FSR", "x": 237, "y": -0.845}]},
      "mark": {"type": "text", "align": "center", "baseline": "alphabetic", "font": "Lato", "fontWeight": "bold", "fontSize": 22, "color": "#5b8bd0", "clip": false},
      "encoding": {
        "x": {"field": "x", "type": "quantitative", "axis": null},
        "y": {"field": "y", "type": "quantitative", "axis": null},
        "text": {"field": "txt"}
      }
    }
  ]
}
